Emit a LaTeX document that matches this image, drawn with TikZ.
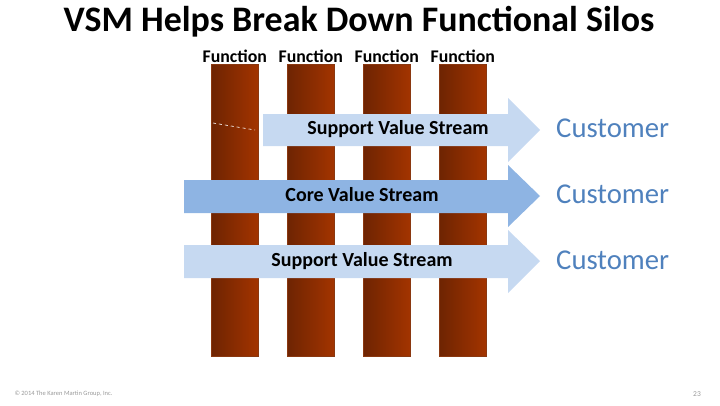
\documentclass[tikz,border=0pt]{standalone}
\usepackage{fontspec}
\setmainfont{Carlito}
\usetikzlibrary{positioning}

\definecolor{siloDark}{HTML}{6E2402}
\definecolor{siloLight}{HTML}{A33400}
\definecolor{siloEdge}{HTML}{8A3810}
\definecolor{supportBlue}{HTML}{C6D9F1}
\definecolor{coreBlue}{HTML}{8EB4E3}
\definecolor{custBlue}{HTML}{4F81BD}

\begin{document}
\begin{tikzpicture}[
    x=1pt, y=-1pt,
    % === STYLES ===
    silo/.style={
        rectangle,
        left color=siloDark,
        right color=siloLight,
        draw=siloEdge,
        line width=0.6pt,
        minimum width=47pt,
        minimum height=292pt,
        inner sep=0pt
    },
    funclabel/.style={
        font=\fontsize{17.8}{20}\selectfont\bfseries,
        inner sep=1pt
    },
    stream/.style={
        fill=#1
    },
    stream/.default=supportBlue,
    streamtext/.style={
        font=\fontsize{20}{22}\selectfont\bfseries,
        inner sep=0pt
    },
    customer/.style={
        font=\fontsize{28.7}{32}\selectfont,
        text=custBlue,
        anchor=west,
        inner sep=0pt
    },
    footnote/.style={
        font=\fontsize{6.5}{8}\selectfont,
        text=gray!80
    }
]
\useasboundingbox (0,0) rectangle (720,405);

% === TITLE ===
\node[font=\fontsize{35.9}{39}\selectfont\bfseries] (title) at (359,22) {VSM Helps Break Down Functional Silos};

% === FUNCTIONAL SILOS ===
\foreach \i/\x in {1/211,2/287,3/363,4/439} {
    \node[silo, anchor=north west] (silo\i) at (\x,64) {};
    \node[funclabel, above=0pt of silo\i.north] (func\i) {Function};
}

% stray mark on first silo
\draw[white, dashed, line width=0.6pt] (213,123) -- (255,130);

% === VALUE STREAMS ===
% Support (top)
\fill[stream] (263,114) -- (508,114) -- (508,98) -- (540,130)
    -- (508,162) -- (508,146) -- (263,146) -- cycle;
% Core
\fill[stream=coreBlue] (184,180) -- (508,180) -- (508,165) -- (540,196)
    -- (508,227) -- (508,213) -- (184,213) -- cycle;
% Support (bottom)
\fill[stream] (184,245) -- (508,245) -- (508,230) -- (540,261)
    -- (508,293) -- (508,278) -- (184,278) -- cycle;

\node[streamtext] (supTop) at (398,129) {Support Value Stream};
\node[streamtext] (core) at (362,195) {Core Value Stream};
\node[streamtext] (supBot) at (362,261) {Support Value Stream};

% === CUSTOMERS ===
\node[customer] (cust1) at (556,128) {Customer};
\node[customer] (cust2) at (556,194) {Customer};
\node[customer] (cust3) at (556,260) {Customer};

% === FOOTER ===
\node[footnote, anchor=west] (copy) at (11,394) {\textcopyright{} 2014 The Karen Martin Group, Inc.};
\node[footnote, font=\fontsize{7.5}{9}\selectfont] (page) at (697,394) {23};

\end{tikzpicture}
\end{document}
